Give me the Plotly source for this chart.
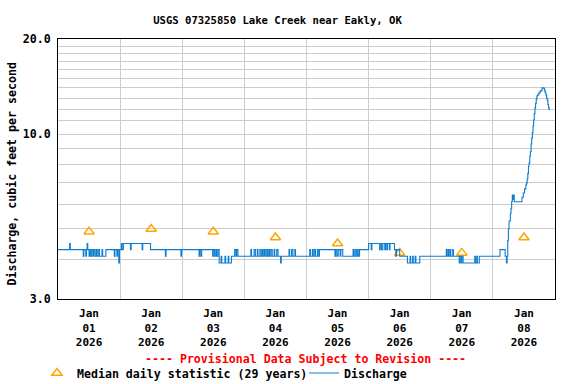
import plotly.graph_objects as go

# ---------------- data ----------------
# Median daily statistic (29 years), plotted at noon of each day
median_dates = ["2026-01-01 12:00", "2026-01-02 12:00", "2026-01-03 12:00", "2026-01-04 12:00",
                "2026-01-05 12:00", "2026-01-06 12:00", "2026-01-07 12:00", "2026-01-08 12:00"]
median_values = [4.9, 5.0, 4.9, 4.7, 4.5, 4.2, 4.2, 4.7]

# Discharge (cfs), step changes (time, value)
jan1_t = ["01 00:00", "01 04:30", "01 04:45", "01 09:45", "01 10:00", "01 10:45", "01 11:00", "01 11:15",
          "01 11:30", "01 12:00", "01 12:15", "01 12:30", "01 13:00", "01 13:30", "01 13:45", "01 14:15",
          "01 14:45", "01 15:00", "01 15:30", "01 16:00", "01 17:00", "01 17:15", "01 18:30", "01 21:45",
          "01 22:00", "01 22:45", "01 23:00", "01 23:30", "01 23:45"]
jan1_q = [4.3, 4.5, 4.3, 4.1, 4.3, 4.1, 4.3, 4.5,
          4.3, 4.1, 4.3, 4.1, 4.3, 4.1, 4.3, 4.1,
          4.3, 4.1, 4.3, 4.1, 4.3, 4.1, 4.3, 4.1,
          4.3, 4.1, 4.3, 3.9, 4.3]
jan2_t = ["02 00:30", "02 00:45", "02 01:15", "02 04:00", "02 04:15", "02 08:30", "02 08:45", "02 11:45",
          "02 17:30", "02 17:45", "02 23:30", "02 23:45"]
jan2_q = [4.5, 4.3, 4.5, 4.3, 4.5, 4.3, 4.5, 4.3,
          4.1, 4.3, 4.1, 4.3]
jan3_t = ["03 06:30", "03 06:45", "03 07:15", "03 07:30", "03 11:45", "03 12:00", "03 12:30", "03 13:00",
          "03 13:15", "03 13:45", "03 14:15", "03 15:00", "03 15:15", "03 16:30", "03 16:45", "03 17:45",
          "03 18:00", "03 19:00", "03 20:15", "03 20:45", "03 21:00", "03 21:30"]
jan3_q = [4.1, 4.3, 4.1, 4.3, 4.1, 4.3, 4.1, 4.3,
          4.1, 4.3, 3.9, 4.1, 3.9, 4.1, 3.9, 4.1,
          3.9, 4.1, 4.3, 4.1, 4.3, 4.1]
jan4_t = ["04 02:30", "04 02:45", "04 03:45", "04 04:15", "04 05:00", "04 05:15", "04 06:00", "04 06:30",
          "04 07:00", "04 07:15", "04 07:45", "04 08:15", "04 08:45", "04 09:00", "04 09:30", "04 09:45",
          "04 10:15", "04 10:45", "04 11:30", "04 11:45", "04 12:30", "04 13:00", "04 14:00", "04 14:15",
          "04 17:15", "04 17:30", "04 18:15", "04 18:45", "04 19:30", "04 19:45"]
jan4_q = [4.3, 4.1, 4.3, 4.1, 4.3, 4.1, 4.3, 4.1,
          4.3, 4.1, 4.3, 4.1, 4.3, 4.1, 4.3, 4.1,
          4.3, 4.1, 4.3, 4.1, 4.3, 4.1, 3.9, 4.1,
          4.3, 4.1, 4.3, 4.1, 4.3, 4.1]
jan5_t = ["05 01:15", "05 01:30", "05 02:15", "05 02:30", "05 03:00", "05 03:30", "05 04:15", "05 04:30",
          "05 05:00", "05 11:00", "05 11:15", "05 11:45", "05 12:15", "05 13:00", "05 13:15", "05 14:00",
          "05 18:00", "05 18:15", "05 18:45", "05 19:15", "05 19:45", "05 20:00", "05 20:30"]
jan5_q = [4.3, 4.1, 4.3, 4.1, 4.3, 4.1, 4.3, 4.1,
          4.3, 4.1, 4.3, 4.1, 4.3, 4.1, 4.3, 4.1,
          4.3, 4.1, 4.3, 4.1, 4.3, 4.1, 4.3]
jan6_t = ["06 00:00", "06 01:00", "06 01:15", "06 04:15", "06 04:30", "06 05:00", "06 05:30", "06 06:15",
          "06 06:30", "06 07:00", "06 07:15", "06 08:00", "06 08:15", "06 10:00", "06 10:30", "06 10:45",
          "06 12:00", "06 15:00", "06 16:00", "06 16:15", "06 17:00", "06 17:15", "06 18:00", "06 18:15",
          "06 19:45"]
jan6_q = [4.5, 4.3, 4.5, 4.3, 4.5, 4.3, 4.5, 4.3,
          4.5, 4.3, 4.5, 4.3, 4.5, 4.3, 4.1, 4.3,
          4.1, 3.9, 4.1, 3.9, 4.1, 3.9, 4.1, 3.9,
          4.1]
jan7_t = ["07 06:00", "07 06:15", "07 06:45", "07 07:00", "07 07:30", "07 07:45", "07 08:30", "07 08:45",
          "07 11:00", "07 11:15", "07 11:45", "07 12:00", "07 12:30", "07 17:00", "07 17:15", "07 17:45",
          "07 18:00", "07 18:45"]
jan7_q = [4.3, 4.1, 4.3, 4.1, 4.3, 4.1, 4.3, 4.1,
          3.9, 4.1, 3.9, 4.1, 3.9, 4.1, 3.9, 4.1,
          3.9, 4.1]
jan8_t = ["08 02:45", "08 04:45", "08 05:15", "08 05:30", "08 05:45", "08 06:00", "08 06:15", "08 06:45",
          "08 07:00", "08 07:15", "08 07:30", "08 07:45", "08 08:00", "08 08:15", "08 11:15", "08 11:45",
          "08 12:15", "08 12:45", "08 13:00", "08 13:15", "08 13:30", "08 13:45", "08 14:00", "08 14:15",
          "08 14:30", "08 14:45", "08 15:00", "08 15:15", "08 15:30", "08 15:45", "08 16:00", "08 16:15",
          "08 16:30", "08 16:45", "08 17:00", "08 17:15", "08 17:45", "08 18:15", "08 19:00", "08 19:45",
          "08 20:00", "08 20:15", "08 20:30", "08 20:45", "08 21:00", "08 21:15", "08 21:30", "08 21:45"]
jan8_q = [4.3, 4.1, 3.9, 4.1, 4.6, 5.0, 5.3, 5.6,
          5.8, 6.1, 6.4, 6.2, 6.4, 6.1, 6.3, 6.5,
          6.7, 6.9, 7.0, 7.2, 7.5, 7.9, 8.1, 8.5,
          8.8, 9.3, 9.7, 10.1, 10.6, 11.1, 11.6, 12.1,
          12.5, 12.9, 13.2, 13.3, 13.5, 13.7, 14.0, 13.9,
          13.7, 13.5, 13.3, 13.0, 12.8, 12.4, 12.1, 11.9]

# x-axis labels (one per day, centred at noon)
tick_month = ["Jan"] * 8
tick_day = ["01", "02", "03", "04", "05", "06", "07", "08"]
tick_year = ["2026"] * 8
day_starts = ["2026-01-0%d 00:00" % d for d in range(1, 10)]

y_tickvals = [3, 10, 20]
y_ticktext = ["3.0", "10.0", "20.0"]
y_grid = [4, 5, 6, 7, 8, 9, 11, 12, 13, 14, 15, 16, 17, 18, 19]

# -------------- assemble --------------
q_time = []
q_value = []
for ts, qs in [(jan1_t, jan1_q), (jan2_t, jan2_q), (jan3_t, jan3_q), (jan4_t, jan4_q),
               (jan5_t, jan5_q), (jan6_t, jan6_q), (jan7_t, jan7_q), (jan8_t, jan8_q)]:
    q_time += ["2026-01-" + t for t in ts]
    q_value += qs

x_ticktext = ["%s<br>%s<br>%s" % (m, d, y) for m, d, y in zip(tick_month, tick_day, tick_year)]

FONT = "DejaVu Sans Mono"
FS = 11.6
BLUE = "#0b7dd0"
ORANGE = "#ffa500"

fig = go.Figure()
fig.add_trace(go.Scatter(
    x=median_dates, y=median_values, mode="markers",
    name="Median daily statistic (29 years)",
    marker=dict(symbol="triangle-up-open", size=9, color=ORANGE, line=dict(color=ORANGE, width=1.5)),
))
fig.add_trace(go.Scatter(
    x=q_time, y=q_value, mode="lines", line_shape="hv",
    name="Discharge", line=dict(color=BLUE, width=1.1),
))

# plot geometry helpers (pixels -> paper)
L, R, T, B = 58, 555, 39, 299
def px(xp):
    return (xp - L) / (R - L)
def py(yp):
    return (B - yp) / (B - T)

annotations = [
    dict(x=px(305.5), y=py(359), xref="paper", yref="paper",
         text="---- Provisional Data Subject to Revision ----", showarrow=False,
         xanchor="center", yanchor="middle",
         font=dict(family=FONT, size=FS, color="#ff0000", weight="bold")),
    dict(x=px(11.5), y=py(174), xref="paper", yref="paper",
         text="Discharge, cubic feet per second", showarrow=False, textangle=-90,
         xanchor="center", yanchor="middle",
         font=dict(family=FONT, size=FS, color="black", weight="bold")),
]

fig.update_layout(
    width=576, height=384, autosize=False,
    margin=dict(l=L, r=576 - R, t=T, b=384 - B, autoexpand=False),
    paper_bgcolor="white", plot_bgcolor="white",
    title=dict(text="USGS 07325850 Lake Creek near Eakly, OK", x=277.5 / 576, xref="container",
               xanchor="center", y=1 - 20.5 / 384, yref="container", yanchor="middle",
               font=dict(family=FONT, size=10.6, color="black", weight="bold")),
    showlegend=True,
    legend=dict(orientation="h", x=px(37), xanchor="left", y=py(373), yanchor="middle",
                font=dict(family=FONT, size=FS, color="black", weight="bold"),
                entrywidth=222, itemwidth=30, bgcolor="rgba(0,0,0,0)", borderwidth=0),
    annotations=annotations,
)
fig.update_xaxes(
    type="date", range=["2026-01-01 00:00", "2026-01-09 00:00"],
    tickmode="array", tickvals=median_dates, ticktext=x_ticktext,
    tickfont=dict(family=FONT, size=11, color="black", weight="bold"),
    ticks="", ticklabelstandoff=4, showgrid=False, zeroline=False,
    showline=True, linecolor="black", linewidth=1, mirror=True,
    minor=dict(tickmode="array", tickvals=day_starts, showgrid=True, gridcolor="#cccccc", gridwidth=1, ticks=""),
)
fig.update_yaxes(
    type="log", range=[0.47712125472, 1.30102999566],
    tickmode="array", tickvals=y_tickvals, ticktext=y_ticktext, ticks="",
    ticklabelstandoff=4,
    showgrid=True, gridcolor="#cccccc", gridwidth=1, zeroline=False,
    showline=True, linecolor="black", linewidth=1, mirror=True,
    tickfont=dict(family=FONT, size=FS, color="black", weight="bold"),
    minor=dict(tickmode="array", tickvals=y_grid, showgrid=True, gridcolor="#cccccc", gridwidth=1, ticks=""),
)

fig.write_html("out.html", config={"displayModeBar": False},
               post_script="document.body.style.margin='0';document.body.style.padding='0';")
